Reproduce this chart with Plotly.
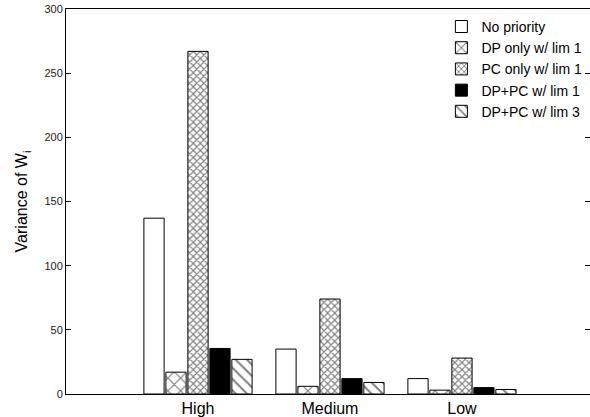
import plotly.graph_objects as go

categories = ["High", "Medium", "Low"]
series_names = ["No priority", "DP only w/ lim 1", "PC only w/ lim 1", "DP+PC w/ lim 1", "DP+PC w/ lim 3"]
no_priority = [137, 35, 12]
dp_only_lim1 = [17, 6, 3]
pc_only_lim1 = [267, 74, 28]
dppc_lim1 = [35.5, 12, 5]
dppc_lim3 = [27, 9, 3.5]

values = [no_priority, dp_only_lim1, pc_only_lim1, dppc_lim1, dppc_lim3]
patterns = [
    dict(shape="", fillmode="replace"),
    dict(shape="x", size=9, solidity=0.25, fgcolor="black", bgcolor="white"),
    dict(shape="x", size=5, solidity=0.4, fgcolor="black", bgcolor="white"),
    dict(shape="", fillmode="replace"),
    dict(shape="\\", size=8, solidity=0.25, fgcolor="black", bgcolor="white"),
]
fills = ["white", "white", "white", "black", "white"]

fig = go.Figure()
for name, vals, pat, fc in zip(series_names, values, patterns, fills):
    fig.add_trace(go.Bar(
        x=categories, y=vals, name=name,
        marker=dict(color=fc, line=dict(color="black", width=1), pattern=pat),
    ))

font = "Liberation Sans, Arial, Helvetica, sans-serif"
fig.update_layout(
    width=590, height=417,
    margin=dict(l=66, r=0, t=9, b=23),
    paper_bgcolor="white", plot_bgcolor="white",
    barmode="group", bargap=0.167, bargroupgap=0.08,
    font=dict(family=font, color="black"),
    showlegend=True,
    legend=dict(x=0.995, y=0.995, xanchor="right", yanchor="top",
                bgcolor="rgba(0,0,0,0)", font=dict(size=14),
                tracegroupgap=0, itemwidth=30),
    xaxis=dict(type="category", range=[-1, 2.97], showgrid=False,
               showline=True, linecolor="black", linewidth=1, mirror=True,
               ticks="", tickfont=dict(size=16), zeroline=False),
    yaxis=dict(range=[0, 300], tickvals=[0, 50, 100, 150, 200, 250, 300],
               showgrid=False, showline=True, linecolor="black", linewidth=1,
               mirror="ticks", ticks="inside", ticklen=5, tickcolor="black",
               tickfont=dict(size=11, color="#222"), zeroline=False,
               title=dict(text="Variance of W<sub>i</sub>", font=dict(size=16), standoff=12)),
)

fig.write_html("out.html")
